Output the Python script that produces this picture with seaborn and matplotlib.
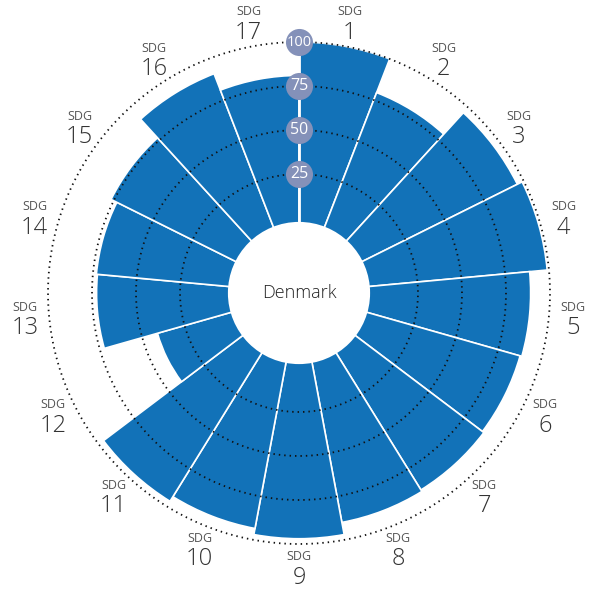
import numpy as np
import pandas as pd
import matplotlib.pyplot as plt
import seaborn as sns
from matplotlib.patches import Circle

# SDG scores for Denmark
goals = [f"{i}" for i in range(1, 18)]
scores = [100, 79.5, 96, 99, 89, 88, 89, 90, 97, 93.5, 96.6, 41, 72.4, 73, 76.7, 91, 81]
ring_levels = [25, 50, 75, 100]
country = "Denmark"

bar_color = "#1272b8"
badge_color = "#8491b9"
offset = 42.6     # empty space below the 0 level
hole = 39.8       # white disc in the middle

sns.set_theme(style="white")
plt.rcParams['font.family'] = ['Open Sans', 'DejaVu Sans']

n = len(goals)
step = 2 * np.pi / n
df = pd.DataFrame({
    'goal': goals,
    'score': scores,
    'theta': np.arange(n) * step + step / 2,
})

fig = plt.figure(figsize=(5.98, 5.89), dpi=100)
ax = fig.add_axes([48 / 598, 45 / 589, 502 / 598, 502 / 589], projection='polar')
ax.set_theta_zero_location('N')
ax.set_theta_direction(-1)
ax.set_rorigin(-offset)

sns.barplot(data=df, x='theta', y='score', native_scale=True, width=1.0,
            color=bar_color, saturation=1, edgecolor='white', linewidth=1.2,
            errorbar=None, ax=ax)
# let the bars reach down to the white disc
base = hole - offset - 1
for p in ax.patches:
    p.set_height(p.get_height() - base)
    p.set_y(base)

ax.set_ylim(base, 100)
ax.set_xlim(0, 2 * np.pi)
ax.set_xlabel('')
ax.set_ylabel('')
ax.set_xticks([])
ax.set_yticks([])
ax.grid(False)
for sp in ax.spines.values():
    sp.set_visible(False)
ax.patch.set_edgecolor('none')

# dotted rings
circ = np.linspace(0, 2 * np.pi, 720)
for lvl in ring_levels:
    ax.plot(circ, np.full_like(circ, lvl), color='#111111', lw=1.3,
            linestyle=(0, (0.8, 2.2)), zorder=4, clip_on=False)

# white disc in the middle
hole_frac = hole / (offset + 100) / 2
ax.add_patch(Circle((0.5, 0.5), hole_frac, transform=ax.transAxes,
                    facecolor='white', edgecolor='white', lw=1.5,
                    zorder=5, clip_on=False))
ax.text(0, -offset, country, ha='center', va='center', fontsize=13,
        fontweight='light', color='#222222', zorder=6)

# scale spoke with badges
ax.plot([0, 0], [hole - offset, 100], color='white', lw=2, zorder=5)
for lvl in ring_levels:
    ax.plot(0, lvl, 'o', ms=19.5, color=badge_color, mec='none', zorder=6, clip_on=False)
    ax.text(0, lvl, str(lvl), ha='center', va='center',
            fontsize=10.5 if lvl == 100 else 11.5,
            color='white', zorder=7)

# outer labels
label_r = 275 / 251 * (offset + 100) - offset
for th, g in zip(df['theta'], df['goal']):
    ax.annotate('SDG', (th, label_r), xytext=(0, 11), textcoords='offset pixels',
                ha='center', va='center', fontsize=9, color='#555555',
                annotation_clip=False)
    ax.annotate(g, (th, label_r), xytext=(0, -10), textcoords='offset pixels',
                ha='center', va='center', fontsize=17, color='#333333',
                fontweight='light', annotation_clip=False)

fig.savefig('out.png', dpi=100)
